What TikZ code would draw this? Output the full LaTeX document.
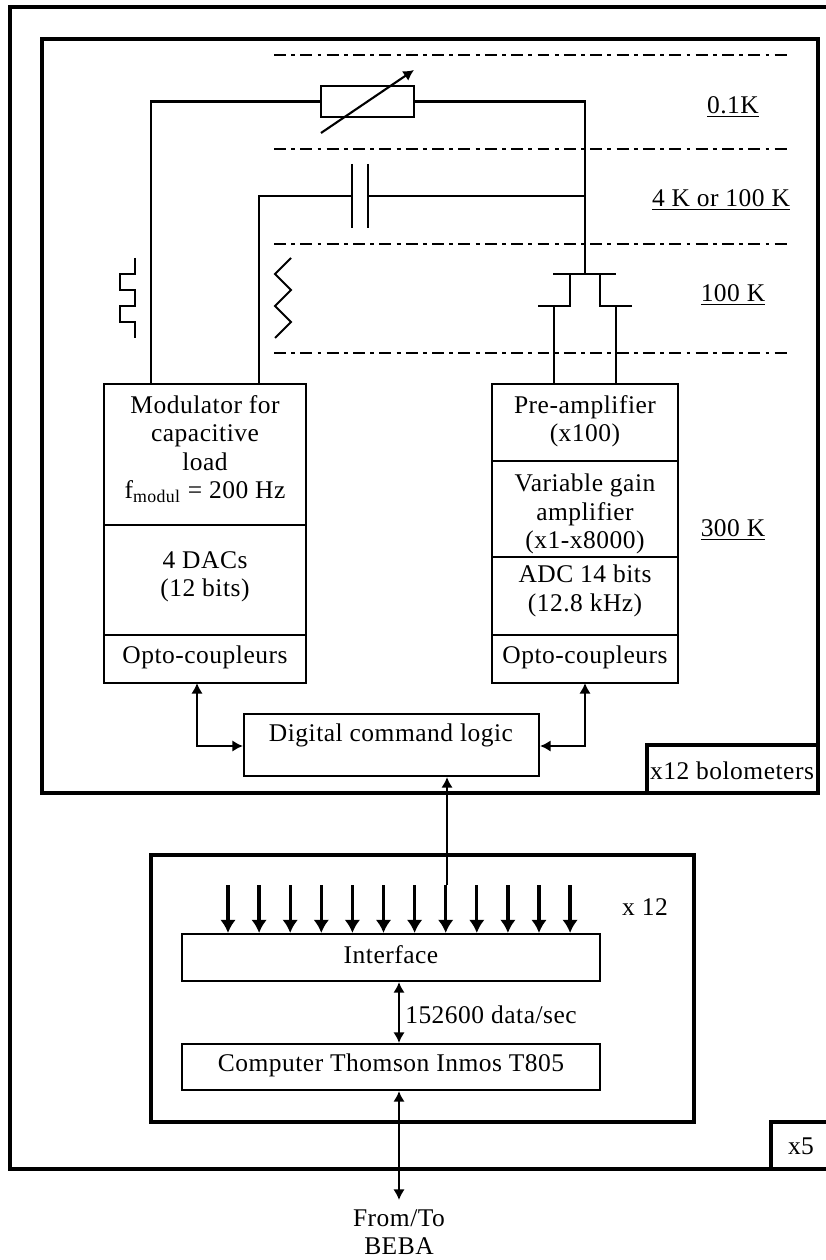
\documentclass[tikz,border=0pt]{standalone}
\usepackage{fontspec}
\setmainfont[LetterSpace=2]{Liberation Serif}
\usetikzlibrary{arrows.meta,fit}

\tikzset{
  wire/.style={line width=1.2pt},
  heavy/.style={draw, line width=2.4pt, inner sep=0pt},
  medium/.style={draw, line width=1.8pt, inner sep=0pt},
  box/.style={draw, line width=1.2pt, inner sep=0pt},
  level/.style={line width=1.5pt, dash pattern=on 6.8pt off 3pt on 2.2pt off 3pt},
  txt/.style={align=center, inner sep=0pt, font=\fontsize{14.5}{16.2}\selectfont},
  tip/.style={>={Latex[length=6pt,width=6.5pt]}},
  bigarrow/.style={line width=1.9pt, -{Latex[length=7.5pt,width=9pt]}}
}

\begin{document}
\begin{tikzpicture}[x=0.02cm, y=-0.02cm, tip]
    \useasboundingbox (0,0) rectangle (825,1260);

    % frames
    \node[heavy, fit={(10,7)(828,1169)}] (outer) {};
    \node[heavy, fit={(42,39)(818,793)}] (bolo) {};
    \node[heavy, fit={(647,745)(818,793)}] (bolobox) {};
    \node[heavy, fit={(151,855)(694,1122)}] (crate) {};
    \node[medium, fit={(771,1122)(828,1169)}] (fivebox) {};

    % temperature levels
    \foreach \y in {55,149,244,353}
      \draw[level] (274,\y) -- (788,\y);

    % left stack
    \node[box, fit={(104,384)(306,525)}] (modul) {};
    \node[box, fit={(104,525)(306,635)}] (dacs) {};
    \node[box, fit={(104,635)(306,683)}] (optol) {};
    % right stack
    \node[box, fit={(492,384)(678,461)}] (preamp) {};
    \node[box, fit={(492,461)(678,557)}] (vga) {};
    \node[box, fit={(492,557)(678,635)}] (adc) {};
    \node[box, fit={(492,635)(678,683)}] (optor) {};

    \node[box, fit={(244,714)(539,776)}] (logic) {};
    \node[box, fit={(182,934)(600,981)}] (iface) {};
    \node[box, fit={(182,1044)(600,1090)}] (comp) {};
    \node[box, fit={(321,86)(414,117)}] (res) {};

    % texts
    \node[txt] (modtxt) at (205,449) {Modulator for\\capacitive\\load\\f\textsubscript{modul} = 200 Hz};
    \node[txt] (dactxt) at (205,577) {4 DACs\\(12 bits)};
    \node[txt] (optoltxt) at (205,657) {Opto-coupleurs};
    \node[txt] (pretxt) at (585,421) {Pre-amplifier\\(x100)};
    \node[txt] (vgatxt) at (585,514) {Variable gain\\amplifier\\(x1-x8000)};
    \node[txt] (adctxt) at (585,591) {ADC 14 bits\\(12.8 kHz)};
    \node[txt] (optortxt) at (585,657) {Opto-coupleurs};
    \node[txt] (logictxt) at (391,735) {Digital command logic};
    \node[txt] (ifacetxt) at (391,955) {Interface};
    \node[txt] (comptxt) at (391,1065) {Computer Thomson Inmos T805};
    \node[txt] (rate) at (491,1015) {152600 data/sec};
    \node[txt] (beba) at (399,1232) {From/To\\BEBA};
    \node[txt] (bolotxt) at (732,771) {x12 bolometers};
    \node[txt] (fivetxt) at (801,1146) {x5};
    \node[txt] (twelve) at (645,907) {x 12};
    \node[txt] (t1) at (733,107) {\underline{0.1K}};
    \node[txt] (t2) at (721,200) {\underline{4 K or 100 K}};
    \node[txt] (t3) at (733,295) {\underline{100 K}};
    \node[txt] (t4) at (733,530) {\underline{300 K}};

    % wires to the sensor stage
    \coordinate (gate) at (585,274);
    \coordinate (modl) at (151,384);
    \coordinate (modr) at (259,384);
    \coordinate (capl) at (352,196);
    \coordinate (capr) at (368,196);
    \coordinate (tap) at (585,196);
    \draw[wire] (res.west) -| (modl);
    \draw[wire] (res.east) -| (gate);
    \draw[wire] (capl) -| (modr);
    \draw[wire] (capr) -- (tap);
    \draw[wire] (352,164) -- (capl) -- (352,228);
    \draw[wire] (368,164) -- (capr) -- (368,228);
    \draw[wire, ->] (321,133) -- (414,70);

    % FET
    \draw[wire] (553,274) -- (gate) -- (616,274);
    \draw[wire] (538,306) -- (570,306) -- (570,274);
    \draw[wire] (632,306) -- (600,306) -- (600,274);
    \draw[wire] (554,306) -- (554,384);
    \draw[wire] (616,306) -- (616,384);

    % modulation shapes
    \draw[wire] (135,258) -- (135,274) -- (120,274) -- (120,290) -- (135,290) -- (135,306)
      -- (120,306) -- (120,322) -- (135,322) -- (135,338);
    \draw[wire] (291,258) -- (275,274) -- (291,290) -- (275,306) -- (291,322) -- (275,338);

    % digital links
    \coordinate (optolb) at (197,683);
    \coordinate (optorb) at (585,683);
    \draw[wire, <->] (optolb) |- (logic.west |- 0,746);
    \draw[wire, <->] (optorb) |- (logic.east |- 0,746);
    \coordinate (busfoot) at (447,885);
    \draw[wire, ->] (busfoot) -- (logic.south -| busfoot);

    % inputs of the interface
    \foreach \i in {0,...,11} {
      \pgfmathsetmacro{\xpos}{228+31.1*\i}
      \coordinate (in\i) at (\xpos,885);
      \draw[bigarrow] (in\i) -- (iface.north -| in\i);
    }

    \coordinate (datax) at (399,1013);
    \draw[wire, <->] (iface.south -| datax) -- (comp.north -| datax);
    \coordinate (bebatop) at (399,1200);
    \draw[wire, <->] (comp.south -| bebatop) -- (bebatop);
  \end{tikzpicture}
\end{document}
